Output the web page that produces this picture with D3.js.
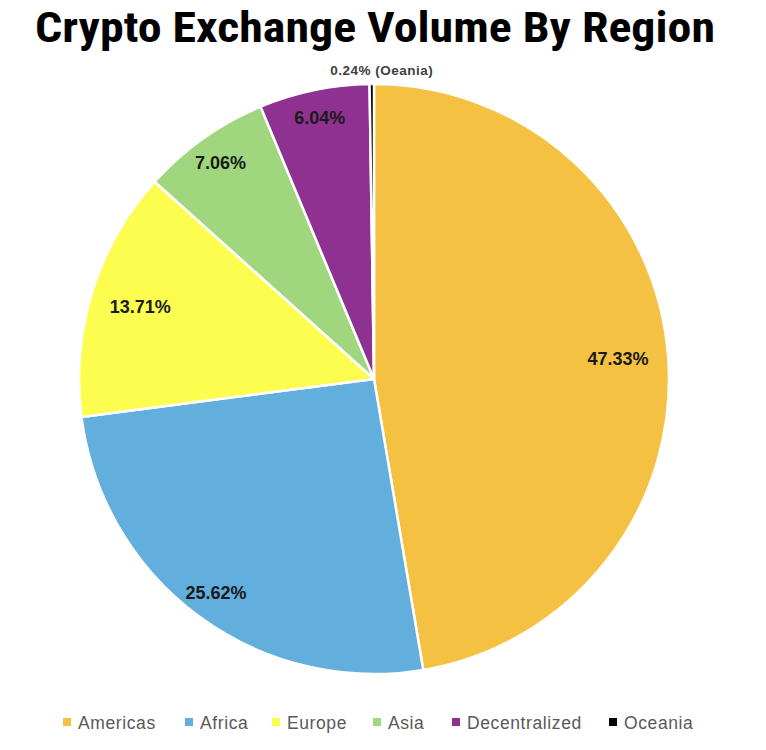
<!DOCTYPE html>
<html><head><meta charset="utf-8">
<script src="https://cdn.jsdelivr.net/npm/d3@7"></script>
<style>
body{margin:0;background:#fff;}
svg{display:block;}
</style></head>
<body>
<svg id="chart" width="766" height="750"></svg>
<script>
const categories = ["Americas","Africa","Europe","Asia","Decentralized","Oceania"];
const values = [47.33, 25.62, 13.71, 7.06, 6.04, 0.24];
const labels = ["47.33%","25.62%","13.71%","7.06%","6.04%","0.24% (Oeania)"];
const colors = ["#F4C142","#62AEDD","#FDFD4F","#A0D77E","#8E3191","#000000"];

const svg = d3.select("#chart");
const cx = 374, cy = 379, R = 295;

svg.append("text")
  .attr("x", 375).attr("y", 42)
  .attr("text-anchor","middle")
  .attr("font-family","'Liberation Sans Narrow','Arial Narrow','Roboto Condensed',sans-serif")
  .attr("font-weight","bold")
  .attr("font-size", 42)
  .attr("textLength", 680)
  .attr("lengthAdjust","spacingAndGlyphs")
  .attr("fill","#000")
  .text("Crypto Exchange Volume By Region");

const data = categories.map((c,i)=>({cat:c, value:values[i], label:labels[i], color:colors[i]}));
const pie = d3.pie().value(d=>d.value).sort(null);
const arcs = pie(data);
const arc = d3.arc().innerRadius(0).outerRadius(R);
const labelFactor = [0.83, 0.90, 0.83, 0.90, 0.905];

const g = svg.append("g").attr("transform",`translate(${cx},${cy})`);
g.selectAll("path").data(arcs).join("path")
  .attr("d", arc)
  .attr("fill", d=>d.data.color)
  .attr("stroke","#fff")
  .attr("stroke-width",2.5)
  .attr("stroke-linejoin","round");

g.selectAll("text.lbl").data(arcs.slice(0,5)).join("text")
  .attr("class","lbl")
  .attr("transform",(d,i)=>{
    const a=(d.startAngle+d.endAngle)/2, r=R*labelFactor[i];
    return `translate(${Math.sin(a)*r},${-Math.cos(a)*r})`;
  })
  .attr("text-anchor","middle").attr("dy","0.36em")
  .attr("font-family","'Liberation Sans',Arial,sans-serif")
  .attr("font-weight","bold").attr("font-size",18).attr("fill","#1a1a1a")
  .text(d=>d.data.label);

// Oceania label outside the top
const oc = arcs[5];
const oa = (oc.startAngle+oc.endAngle)/2;
g.append("text")
  .attr("x", Math.sin(oa)*(R+9)+10).attr("y", -Math.cos(oa)*(R+9)-0)
  .attr("text-anchor","middle")
  .attr("font-family","'Liberation Sans',Arial,sans-serif")
  .attr("font-weight","bold").attr("font-size",13.5).attr("letter-spacing",0.5).attr("fill","#404040")
  .text(oc.data.label);

// Legend
const legendX = [63, 185, 272, 373, 452, 609];
const lg = svg.append("g");
const items = lg.selectAll("g").data(data).join("g")
  .attr("transform",(d,i)=>`translate(${legendX[i]},723)`);
items.append("rect").attr("x",0).attr("y",-5).attr("width",8).attr("height",8).attr("fill",d=>d.color);
items.append("text").attr("x",15).attr("y",0).attr("dy","0.35em")
  .attr("font-family","'Liberation Sans',Arial,sans-serif")
  .attr("font-size",17.5).attr("letter-spacing",0.6).attr("fill","#595959")
  .text(d=>d.cat);
</script>
</body></html>
